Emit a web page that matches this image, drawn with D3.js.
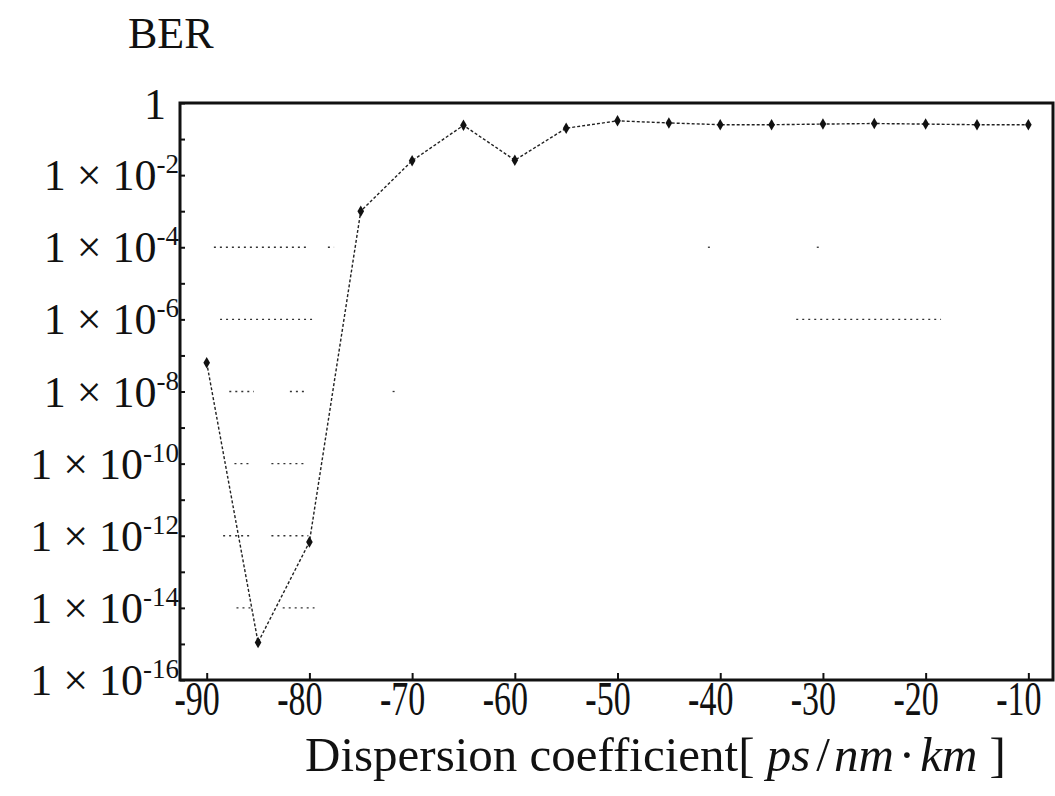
<!DOCTYPE html>
<html>
<head>
<meta charset="utf-8">
<script src="https://cdn.jsdelivr.net/npm/d3@7"></script>
<style>
  html, body { margin: 0; padding: 0; background: #fff; }
  svg { display: block; }
  text { font-family: "Liberation Serif", "Times New Roman", serif; fill: #111; }
</style>
</head>
<body>
<svg id="chart" width="1055" height="796"></svg>
<script>
// Dispersion coefficient (ps/nm·km) sampled every 5 units
const dispersion = [-90, -85, -80, -75, -70, -65, -60, -55, -50, -45, -40, -35, -30, -25, -20, -15, -10];
// Bit error rate at each dispersion value
const ber = [6.3e-8, 1.1e-15, 6.7e-13, 1.0e-3, 2.5e-2, 2.4e-1, 2.6e-2, 2.0e-1, 3.2e-1, 2.8e-1,
             2.5e-1, 2.5e-1, 2.6e-1, 2.7e-1, 2.6e-1, 2.5e-1, 2.5e-1];
// Axis ticks
const xTicks = [-90, -80, -70, -60, -50, -40, -30, -20, -10];
const yTickExponents = [0, -2, -4, -6, -8, -10, -12, -14, -16];
const yMinorExponents = d3.range(0, -17, -1);
// Dotted grid runs that remain visible: [exponent, from, to] in dispersion units
const gridRuns = [
  [-4, -89.3, -80.0], [-4, -78.2, -77.6], [-4, -41.2, -40.9], [-4, -30.6, -30.3],
  [-6, -88.7, -79.7], [-6, -32.6, -18.5],
  [-8, -87.8, -85.4], [-8, -81.9, -80.2], [-8, -71.9, -71.6],
  [-10, -87.3, -85.8], [-10, -83.7, -80.2],
  [-12, -88.4, -85.8], [-12, -83.7, -80.1],
  [-14, -87.1, -85.6], [-14, -82.6, -79.5]
];

const svg = d3.select("#chart");
const frame = { left: 180, right: 1053, top: 103, bottom: 680 };

const x = d3.scaleLinear().domain([-92.6, -7.6]).range([frame.left, frame.right]);
const y = d3.scaleLog().domain([1e-16, 1]).range([frame.bottom, frame.top]);

// Grid fragments
svg.append("g")
  .selectAll("line")
  .data(gridRuns)
  .join("line")
  .attr("x1", d => x(d[1]))
  .attr("x2", d => x(d[2]))
  .attr("y1", d => y(Math.pow(10, d[0])))
  .attr("y2", d => y(Math.pow(10, d[0])))
  .attr("stroke", "#333")
  .attr("stroke-width", 1.3)
  .attr("stroke-dasharray", "2 4");

// Y axis: decade ticks inside the frame
const yAxis = d3.axisLeft(y)
  .tickValues(yMinorExponents.map(e => Math.pow(10, e)))
  .tickSize(-5)
  .tickFormat("");
const gy = svg.append("g").attr("transform", `translate(${frame.left},0)`).call(yAxis);
gy.select(".domain").remove();
gy.selectAll(".tick line").attr("stroke", "#111").attr("stroke-width", 2);

// Y tick labels with superscript exponents
const yLabels = svg.append("g");
yTickExponents.forEach(e => {
  const ty = y(Math.pow(10, e));
  if (e === 0) {
    yLabels.append("text")
      .attr("x", 166).attr("y", ty + 16)
      .attr("text-anchor", "end")
      .attr("font-size", 44)
      .text("1");
  } else {
    const t = yLabels.append("text")
      .attr("x", 179).attr("y", ty + 15)
      .attr("text-anchor", "end")
      .attr("font-size", 44);
    t.append("tspan").text("1 × 10");
    t.append("tspan").attr("font-size", 27).attr("dy", -17).text(String(e));
  }
});

// X axis
const xAxis = d3.axisBottom(x).tickValues(xTicks).tickSize(-7).tickFormat(d3.format("d"));
const gx = svg.append("g").attr("transform", `translate(0,${frame.bottom})`).call(xAxis);
gx.select(".domain").remove();
gx.selectAll(".tick line").attr("stroke", "#111").attr("stroke-width", 2);
gx.selectAll(".tick text")
  .attr("y", null).attr("dy", null)
  .attr("font-size", 34)
  .attr("fill", "#111")
  .attr("text-anchor", "middle")
  .attr("transform", "translate(-10,35) scale(1,1.4)")
  .text(d => "-" + Math.abs(d));

// Frame
svg.append("rect")
  .attr("x", frame.left).attr("y", frame.top)
  .attr("width", frame.right - frame.left)
  .attr("height", frame.bottom - frame.top)
  .attr("fill", "none")
  .attr("stroke", "#111")
  .attr("stroke-width", 3);

// BER curve
const line = d3.line().x((d, i) => x(dispersion[i])).y(d => y(d));
svg.append("path")
  .datum(ber)
  .attr("d", line)
  .attr("fill", "none")
  .attr("stroke", "#222")
  .attr("stroke-width", 1.4)
  .attr("stroke-dasharray", "3 2");

svg.append("g")
  .selectAll("path")
  .data(ber)
  .join("path")
  .attr("transform", (d, i) => `translate(${x(dispersion[i])},${y(d)})`)
  .attr("d", d3.symbol().type(d3.symbolDiamond).size(38))
  .attr("fill", "#111");

// Titles
svg.append("text")
  .attr("x", 128).attr("y", 48)
  .attr("font-size", 44)
  .text("BER");

const xt = svg.append("text")
  .attr("x", 305).attr("y", 771)
  .attr("font-size", 49);
xt.append("tspan").text("Dispersion coefficient[ ");
xt.append("tspan").attr("font-style", "italic").text("ps");
xt.append("tspan").attr("dx", 6).text("/");
xt.append("tspan").attr("dx", 4).attr("font-style", "italic").text("nm");
xt.append("tspan").attr("dx", 5).text("·");
xt.append("tspan").attr("dx", 5).attr("font-style", "italic").text("km");
xt.append("tspan").text(" ]");
</script>
</body>
</html>
